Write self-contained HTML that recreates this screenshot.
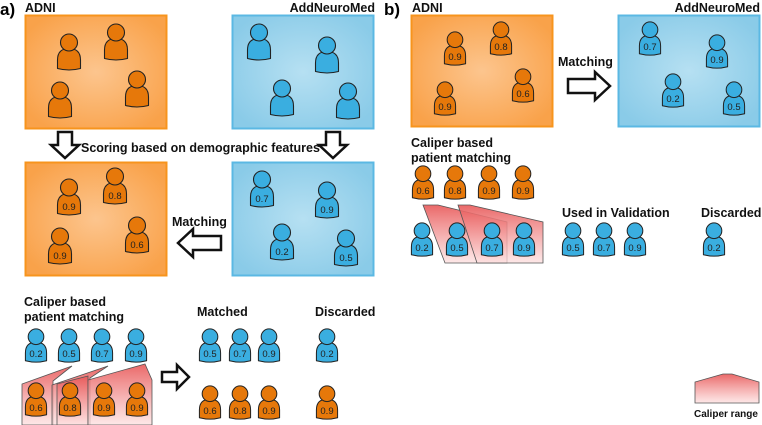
<!DOCTYPE html>
<html><head><meta charset="utf-8"><style>
html,body{margin:0;padding:0;background:#fff}
svg{display:block}
text{font-family:"Liberation Sans",sans-serif}
.t{font-weight:bold;font-size:12.5px;fill:#111}
.n{font-size:9.5px;fill:#222;text-anchor:middle}
</style></head><body>
<svg width="762" height="425" viewBox="0 0 762 425" xmlns="http://www.w3.org/2000/svg">
<defs>
<radialGradient id="go" cx="50%" cy="50%" r="60%"><stop offset="0" stop-color="#fcc58e"/><stop offset="1" stop-color="#f9a24a"/></radialGradient>
<radialGradient id="gb" cx="50%" cy="50%" r="60%"><stop offset="0" stop-color="#b6e0f2"/><stop offset="1" stop-color="#8acbe8"/></radialGradient>
<linearGradient id="gr" x1="0" y1="0" x2="0" y2="1"><stop offset="0" stop-color="#e85858" stop-opacity=".9"/><stop offset="1" stop-color="#fde0e0" stop-opacity=".75"/></linearGradient>
<symbol id="po" viewBox="0 0 26 38"><path d="M1.5,35.5 L1.5,27 Q1.5,15.5 13,15.5 Q24.5,15.5 24.5,27 L24.5,35.5 Q13,38.5 1.5,35.5 Z" fill="#e6780a" stroke="#222" stroke-width="1.1" stroke-linejoin="round"/><circle cx="13" cy="9.5" r="8.5" fill="#e6780a" stroke="#222" stroke-width="1.1"/></symbol>
<symbol id="pb" viewBox="0 0 26 38"><path d="M1.5,35.5 L1.5,27 Q1.5,15.5 13,15.5 Q24.5,15.5 24.5,27 L24.5,35.5 Q13,38.5 1.5,35.5 Z" fill="#3aaee0" stroke="#222" stroke-width="1.1" stroke-linejoin="round"/><circle cx="13" cy="9.5" r="8.5" fill="#3aaee0" stroke="#222" stroke-width="1.1"/></symbol>
</defs>

<!-- Panel a -->
<text x="0" y="15" font-size="17" font-weight="bold" font-family="Liberation Sans">a)</text>
<text x="25" y="12" class="t">ADNI</text>
<text x="375" y="12" class="t" text-anchor="end">AddNeuroMed</text>
<rect x="25.5" y="15.5" width="141" height="113" fill="url(#go)" stroke="#f7941d" stroke-width="2"/>
<rect x="232.5" y="15.5" width="141" height="113" fill="url(#gb)" stroke="#5bb8e3" stroke-width="2"/>
<use href="#po" x="56" y="33" width="26" height="38"/>
<use href="#po" x="103" y="23" width="26" height="38"/>
<use href="#po" x="47" y="81" width="26" height="38"/>
<use href="#po" x="124" y="70" width="26" height="38"/>
<use href="#pb" x="246" y="23" width="26" height="38"/>
<use href="#pb" x="314" y="36" width="26" height="38"/>
<use href="#pb" x="269" y="79" width="26" height="38"/>
<use href="#pb" x="335" y="82" width="26" height="38"/>

<path d="M58,132 H72 V145 H79 L65,158 L51,145 H58 Z" fill="#fff" stroke="#111" stroke-width="2.5" stroke-linejoin="miter"/>
<path d="M326,132 H340 V145 H347 L333,158 L319,145 H326 Z" fill="#fff" stroke="#111" stroke-width="2.5"/>
<text x="81" y="152" class="t">Scoring based on demographic features</text>

<rect x="25.5" y="162.5" width="141" height="113" fill="url(#go)" stroke="#f7941d" stroke-width="2"/>
<rect x="232.5" y="162.5" width="141" height="113" fill="url(#gb)" stroke="#5bb8e3" stroke-width="2"/>
<use href="#po" x="56" y="178" width="26" height="38"/><text x="69" y="210" class="n">0.9</text>
<use href="#po" x="102" y="167" width="26" height="38"/><text x="115" y="199" class="n">0.8</text>
<use href="#po" x="47" y="227" width="26" height="38"/><text x="60" y="259" class="n">0.9</text>
<use href="#po" x="124" y="216" width="26" height="38"/><text x="137" y="248" class="n">0.6</text>
<use href="#pb" x="249" y="170" width="26" height="38"/><text x="262" y="202" class="n">0.7</text>
<use href="#pb" x="314" y="181" width="26" height="38"/><text x="327" y="213" class="n">0.9</text>
<use href="#pb" x="269" y="223" width="26" height="38"/><text x="282" y="255" class="n">0.2</text>
<use href="#pb" x="333" y="229" width="26" height="38"/><text x="346" y="261" class="n">0.5</text>
<text x="172" y="226" class="t">Matching</text>
<path d="M221,236 V250 H193 V257 L178,243 L193,229 V236 Z" fill="#fff" stroke="#111" stroke-width="2.5"/>

<text x="24" y="306" class="t">Caliper based</text>
<text x="24" y="321" class="t">patient matching</text>
<use href="#pb" x="24" y="328" width="24" height="35"/><text x="36" y="357" class="n">0.2</text>
<use href="#pb" x="57" y="328" width="24" height="35"/><text x="69" y="357" class="n">0.5</text>
<use href="#pb" x="90" y="328" width="24" height="35"/><text x="102" y="357" class="n">0.7</text>
<use href="#pb" x="124" y="328" width="24" height="35"/><text x="136" y="357" class="n">0.9</text>
<polygon points="22,425 22,384 72,366 53,381 53,425" fill="url(#gr)" stroke="#555" stroke-width="0.8"/>
<polygon points="52,425 52,385 108,366 90,378 90,425" fill="url(#gr)" stroke="#555" stroke-width="0.8"/>
<polygon points="57,425 57,384 88,376 88,425" fill="url(#gr)" stroke="#555" stroke-width="0.8"/>
<polygon points="88,425 88,380 145,364 152,380 152,425" fill="url(#gr)" stroke="#555" stroke-width="0.8"/>
<use href="#po" x="24" y="382" width="24" height="35"/><text x="36" y="411" class="n">0.6</text>
<use href="#po" x="58" y="382" width="24" height="35"/><text x="70" y="411" class="n">0.8</text>
<use href="#po" x="92" y="382" width="24" height="35"/><text x="104" y="411" class="n">0.9</text>
<use href="#po" x="125" y="382" width="24" height="35"/><text x="137" y="411" class="n">0.9</text>
<path d="M162,372 H177 V365 L189,377 L177,389 V382 H162 Z" fill="#fff" stroke="#111" stroke-width="2.5"/>
<text x="197" y="316" class="t">Matched</text>
<text x="315" y="316" class="t">Discarded</text>
<use href="#pb" x="198" y="328" width="24" height="35"/><text x="210" y="357" class="n">0.5</text>
<use href="#pb" x="228" y="328" width="24" height="35"/><text x="240" y="357" class="n">0.7</text>
<use href="#pb" x="257" y="328" width="24" height="35"/><text x="269" y="357" class="n">0.9</text>
<use href="#pb" x="315" y="328" width="24" height="35"/><text x="327" y="357" class="n">0.2</text>
<use href="#po" x="198" y="385" width="24" height="35"/><text x="210" y="414" class="n">0.6</text>
<use href="#po" x="228" y="385" width="24" height="35"/><text x="240" y="414" class="n">0.8</text>
<use href="#po" x="257" y="385" width="24" height="35"/><text x="269" y="414" class="n">0.9</text>
<use href="#po" x="315" y="385" width="24" height="35"/><text x="327" y="414" class="n">0.9</text>

<!-- Panel b -->
<text x="384" y="15" font-size="17" font-weight="bold" font-family="Liberation Sans">b)</text>
<text x="412" y="12" class="t">ADNI</text>
<text x="760" y="12" class="t" text-anchor="end">AddNeuroMed</text>
<rect x="411.5" y="15.5" width="141" height="111" fill="url(#go)" stroke="#f7941d" stroke-width="2"/>
<rect x="618.5" y="15.5" width="141" height="111" fill="url(#gb)" stroke="#5bb8e3" stroke-width="2"/>
<use href="#po" x="443" y="31" width="24" height="35"/><text x="455" y="60" class="n">0.9</text>
<use href="#po" x="489" y="21" width="24" height="35"/><text x="501" y="50" class="n">0.8</text>
<use href="#po" x="433" y="81" width="24" height="35"/><text x="445" y="110" class="n">0.9</text>
<use href="#po" x="511" y="68" width="24" height="35"/><text x="523" y="97" class="n">0.6</text>
<use href="#pb" x="638" y="21" width="24" height="35"/><text x="650" y="50" class="n">0.7</text>
<use href="#pb" x="705" y="34" width="24" height="35"/><text x="717" y="63" class="n">0.9</text>
<use href="#pb" x="661" y="73" width="24" height="35"/><text x="673" y="102" class="n">0.2</text>
<use href="#pb" x="722" y="81" width="24" height="35"/><text x="734" y="110" class="n">0.5</text>
<text x="558" y="66" class="t">Matching</text>
<path d="M568,79 H595 V72 L610,86 L595,100 V93 H568 Z" fill="#fff" stroke="#111" stroke-width="2.5"/>

<text x="411" y="147" class="t">Caliper based</text>
<text x="411" y="162" class="t">patient matching</text>
<use href="#po" x="411" y="165" width="24" height="35"/><text x="423" y="194" class="n">0.6</text>
<use href="#po" x="443" y="165" width="24" height="35"/><text x="455" y="194" class="n">0.8</text>
<use href="#po" x="477" y="165" width="24" height="35"/><text x="489" y="194" class="n">0.9</text>
<use href="#po" x="511" y="165" width="24" height="35"/><text x="523" y="194" class="n">0.9</text>
<polygon points="423,205 438,205 507,222 507,263 445,263" fill="url(#gr)" stroke="#555" stroke-width="0.8"/>
<polygon points="458,205 470,205 543,222 543,263 477,263" fill="url(#gr)" stroke="#555" stroke-width="0.8"/>
<use href="#pb" x="410" y="222" width="24" height="35"/><text x="422" y="251" class="n">0.2</text>
<use href="#pb" x="445" y="222" width="24" height="35"/><text x="457" y="251" class="n">0.5</text>
<use href="#pb" x="480" y="222" width="24" height="35"/><text x="492" y="251" class="n">0.7</text>
<use href="#pb" x="512" y="222" width="24" height="35"/><text x="524" y="251" class="n">0.9</text>
<text x="562" y="217" class="t">Used in Validation</text>
<text x="701" y="217" class="t">Discarded</text>
<use href="#pb" x="561" y="222" width="24" height="35"/><text x="573" y="251" class="n">0.5</text>
<use href="#pb" x="592" y="222" width="24" height="35"/><text x="604" y="251" class="n">0.7</text>
<use href="#pb" x="623" y="222" width="24" height="35"/><text x="635" y="251" class="n">0.9</text>
<use href="#pb" x="702" y="222" width="24" height="35"/><text x="714" y="251" class="n">0.2</text>

<polygon points="695,403 695,382 723,374 732,374 759,382 759,403" fill="url(#gr)" stroke="#555" stroke-width="0.8"/>
<text x="694" y="417" font-size="10" font-weight="bold" font-family="Liberation Sans" fill="#111">Caliper range</text>
</svg>
</body></html>
